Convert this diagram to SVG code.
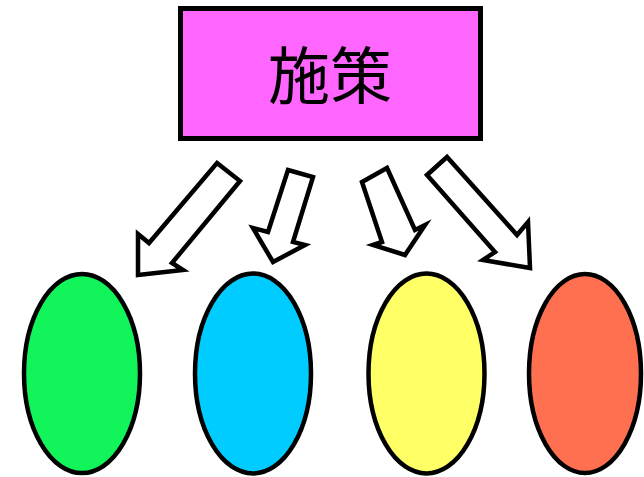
<svg xmlns="http://www.w3.org/2000/svg" width="644" height="477" viewBox="0 0 644 477">
<style>
.box{fill:#ff66ff;stroke:#000;stroke-width:5}
.arr{fill:#fff;stroke:#000;stroke-width:4.5;stroke-linejoin:miter}
.ell{stroke:#000;stroke-width:4.5}
.lbl{font-family:"Noto Sans CJK JP","Noto Sans CJK SC",sans-serif;font-size:62px;fill:#000}
</style>
<rect width="644" height="477" fill="#fff"/>
<g id="policy">
<rect class="box" x="180.5" y="8.5" width="300" height="130"/>
<text class="lbl" x="330" y="99" text-anchor="middle">施策</text>
</g>
<g id="connectors">
<polygon class="arr" points="217,163 240,181 172,263 183,270 138,275 138,234 149,243"/>
<polygon class="arr" points="288,170 313,177 293,242 305,245 273,262 253,228 268,232"/>
<polygon class="arr" points="362,182 387,168 415,230 425,225 405,255 373,245 382,242"/>
<polygon class="arr" points="427,175 447,157 517,235 528,222 530,268 483,260 495,252"/>
</g>
<g id="green"><ellipse class="ell" cx="82" cy="373.5" rx="58" ry="99.5" fill="#12f55a"/></g>
<g id="blue"><ellipse class="ell" cx="253" cy="373.5" rx="58" ry="100" fill="#00ccff"/></g>
<g id="yellow"><ellipse class="ell" cx="426.5" cy="373.5" rx="58" ry="100" fill="#ffff66"/></g>
<g id="orange"><ellipse class="ell" cx="585" cy="373.5" rx="56" ry="99.5" fill="#ff7050"/></g>
</svg>
